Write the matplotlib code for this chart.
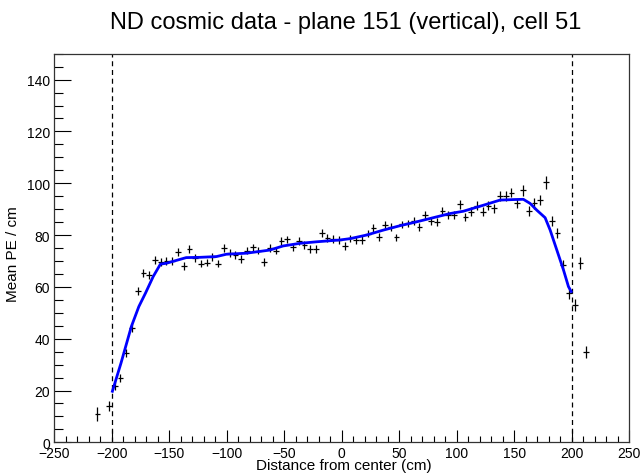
import matplotlib
matplotlib.use("Agg")
import matplotlib.pyplot as plt
from matplotlib.ticker import MultipleLocator, FuncFormatter

plt.rcParams['font.family'] = ['Liberation Sans', 'DejaVu Sans']

# Mean PE per cm in 5 cm bins along the cell
distance_cm = [
    -212.5, -202.5, -197.5, -192.5, -187.5, -182.5, -177.5, -172.5, -167.5, -162.5,
    -157.5, -152.5, -147.5, -142.5, -137.5, -132.5, -127.5, -122.5, -117.5, -112.5,
    -107.5, -102.5, -97.5, -92.5, -87.5, -82.5, -77.5, -72.5, -67.5, -62.5,
    -57.5, -52.5, -47.5, -42.5, -37.5, -32.5, -27.5, -22.5, -17.5, -12.5,
    -7.5, -2.5, 2.5, 7.5, 12.5, 17.5, 22.5, 27.5, 32.5, 37.5,
    42.5, 47.5, 52.5, 57.5, 62.5, 67.5, 72.5, 77.5, 82.5, 87.5,
    92.5, 97.5, 102.5, 107.5, 112.5, 117.5, 122.5, 127.5, 132.5, 137.5,
    142.5, 147.5, 152.5, 157.5, 162.5, 167.5, 172.5, 177.5, 182.5, 187.5,
    192.5, 197.5, 202.5, 207.5, 212.5,
]
mean_pe = [
    11.0, 14.0, 21.7, 24.9, 34.5, 44.0, 58.5, 65.5, 64.6, 70.4,
    69.7, 70.1, 70.0, 73.6, 68.0, 74.5, 71.0, 69.0, 69.4, 71.4,
    69.0, 75.0, 73.2, 72.3, 70.8, 74.0, 75.2, 74.0, 69.7, 74.9,
    74.0, 77.8, 78.3, 75.3, 77.7, 76.2, 74.5, 74.5, 80.9, 79.0,
    78.5, 78.1, 75.8, 78.7, 78.1, 78.1, 80.6, 82.6, 79.4, 83.8,
    83.2, 79.1, 84.1, 84.5, 85.4, 83.2, 87.7, 85.5, 85.1, 89.2,
    87.7, 87.7, 91.8, 87.0, 89.0, 91.3, 89.0, 91.3, 90.3, 95.1,
    95.1, 96.3, 92.2, 97.3, 89.2, 92.2, 93.5, 100.3, 85.4, 80.9,
    68.5, 57.6, 53.1, 69.3, 34.9,
]
mean_pe_err = [
    2.8, 1.8, 1.6, 1.6, 1.5, 1.5, 1.5, 1.5, 1.5, 1.5,
    1.5, 1.5, 1.5, 1.5, 1.5, 1.5, 1.5, 1.5, 1.5, 1.5,
    1.5, 1.5, 1.5, 1.5, 1.5, 1.5, 1.5, 1.5, 1.5, 1.5,
    1.5, 1.5, 1.5, 1.5, 1.5, 1.5, 1.5, 1.5, 1.5, 1.5,
    1.5, 1.5, 1.5, 1.5, 1.5, 1.5, 1.5, 1.5, 1.5, 1.5,
    1.5, 1.5, 1.5, 1.5, 1.5, 1.5, 1.5, 1.5, 1.5, 1.6,
    1.6, 1.6, 1.7, 1.7, 1.7, 1.7, 1.7, 1.7, 1.8, 1.8,
    1.8, 1.8, 1.9, 2.2, 2.0, 2.0, 2.0, 2.4, 2.0, 2.0,
    2.0, 2.2, 2.4, 2.4, 2.4,
]
bin_half_width = 2.5

# Smoothed response curve between the detector edges
fit_x = [-199.5, -192, -183, -176.5, -170.7, -164, -157.7, -152.7, -135.3, -123.7,
         -109, -100.4, -83, -62.7, -51, -36.6, -22, -1.7, 7, 21.5,
         36, 50.5, 65, 79.5, 94, 105.7, 123, 137.6, 149.2, 157.9,
         163.8, 169.6, 176.8, 181.2, 187, 192.8, 197.1, 199.5]
fit_y = [19.7, 30.6, 44.7, 52.4, 57.6, 64.0, 68.8, 69.1, 71.3, 71.4,
         71.7, 72.6, 73.0, 74.2, 75.8, 76.8, 77.4, 78.1, 78.6, 80.0,
         81.9, 83.6, 85.1, 86.7, 88.3, 89.2, 91.5, 93.5, 93.7, 93.8,
         92.2, 89.6, 86.7, 81.9, 74.2, 66.5, 60.1, 58.2]

cell_edges = [-200, 200]

fig = plt.figure(figsize=(6.42, 4.77), dpi=100)
ax = fig.add_axes([0.0846, 0.0706, 0.8956, 0.8147])

ax.errorbar(distance_cm, mean_pe, yerr=mean_pe_err, xerr=bin_half_width,
            fmt='none', ecolor='black', elinewidth=0.9, capsize=0, zorder=3)
ax.plot(fit_x, fit_y, color='#0000ff', lw=2.0, zorder=4)
for xe in cell_edges:
    ax.axvline(xe, color='black', lw=0.9, ls=(0, (4, 3)), zorder=2)

ax.set_xlim(-250, 250)
ax.set_ylim(0, 150)
ax.xaxis.set_major_locator(MultipleLocator(50))
ax.xaxis.set_minor_locator(MultipleLocator(10))
ax.yaxis.set_major_locator(MultipleLocator(20))
ax.yaxis.set_minor_locator(MultipleLocator(5))

ax.tick_params(axis='both', which='both', direction='in', top=False, right=False,
               width=0.8, colors='black', labelsize=10)
ax.tick_params(axis='x', which='major', length=8.4, pad=3)
ax.tick_params(axis='x', which='minor', length=4.2)
ax.tick_params(axis='y', which='major', length=12.4, pad=3)
ax.tick_params(axis='y', which='minor', length=6.2)

for sp in ax.spines.values():
    sp.set_linewidth(0.9)
    sp.set_color('#333333')

ax.xaxis.set_major_formatter(FuncFormatter(
    lambda v, p: f"{int(v)}".replace('-', '\u2212')))

fig.text(0.538, 0.940, "ND cosmic data - plane 151 (vertical), cell 51",
         ha='center', va='baseline', fontsize=17)
fig.text(0.535, 0.0147, "Distance from center (cm)", ha='center', va='baseline', fontsize=11)
fig.text(0.021, 0.4675, "Mean PE / cm", ha='center', va='center', rotation=90, fontsize=11)

fig.savefig("out.png", dpi=100)
